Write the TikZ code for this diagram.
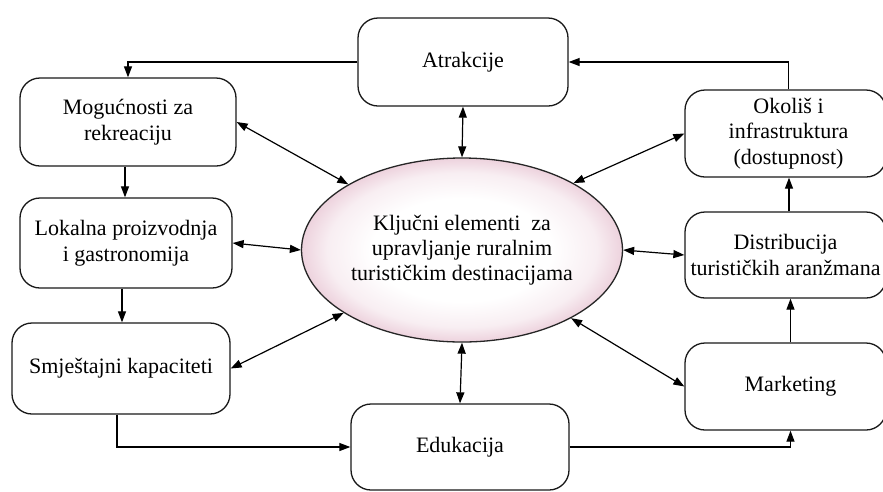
\documentclass[tikz,border=0pt]{standalone}
\usepackage{fontspec}
\setmainfont{Liberation Serif}
\usetikzlibrary{arrows.meta,shapes.geometric}
\definecolor{ellpinkA}{RGB}{248,238,242}
\definecolor{ellpinkB}{RGB}{237,210,221}
\pgfdeclareradialshading{ellshade}{\pgfpoint{0bp}{0bp}}{color(0bp)=(white); color(14bp)=(white); color(21bp)=(ellpinkA); color(25bp)=(ellpinkB); color(50bp)=(ellpinkB)}
\begin{document}
\begin{tikzpicture}[x=1pt,y=-1pt,
  box/.style={draw=black!90, line width=1.3pt, rounded corners=20pt, fill=white,
    align=center, inner sep=0pt, font=\fontsize{22}{25.5}\selectfont},
  core/.style={ellipse, draw=black!85, line width=1.3pt, inner sep=0pt,
    shading=ellshade, align=center,
    font=\fontsize{22}{25}\selectfont},
  conn/.style={line width=1.2pt, -{Triangle[length=11pt,width=8pt]}},
  dconn/.style={line width=1.2pt, {Triangle[length=11pt,width=8pt]}-{Triangle[length=11pt,width=8pt]}}]
\useasboundingbox (0,0) rectangle (883,491);
\fill[white] (0,0) rectangle (883,491);

% boxes
\node[box, minimum width=210pt, minimum height=88pt] (atr) at (463,62) {Atrakcije};
\node[box, minimum width=216pt, minimum height=88pt] (mog) at (128,122) {Mogućnosti za\\rekreaciju};
\node[box, minimum width=212pt, minimum height=90pt] (lok) at (126,243) {Lokalna proizvodnja\\i gastronomija};
\node[box, minimum width=218pt, minimum height=91pt] (smj) at (121,368.5) {Smještajni kapaciteti};
\node[box, minimum width=218pt, minimum height=86pt] (edu) at (460,447) {\raisebox{-4pt}{Edukacija}};
\node[box, minimum width=201pt, minimum height=87pt] (mkt) at (785.5,386.5) {\hspace*{10pt}Marketing};
\node[box, minimum width=201pt, minimum height=86pt] (dis) at (785.5,255) {Distribucija\\turističkih aranžmana};
\node[box, minimum width=201pt, minimum height=87pt] (oko) at (785.5,133.5) {\hspace*{6pt}Okoliš i\\\hspace*{6pt}infrastruktura\\\hspace*{6pt}(dostupnost)};

% central ellipse
\node[core, minimum width=321pt, minimum height=184pt] (core) at (462,250)
  {Ključni elementi\ \ za\\upravljanje ruralnim\\turističkim destinacijama};

% one-way connectors around the ring
\draw[conn] (atr.west) -| (mog.north);
\draw[conn] ([xshift=-3pt]mog.south) -- ([xshift=-3pt]mog.south |- lok.north);
\draw[conn] ([xshift=-4pt]lok.south) -- ([xshift=-4pt]lok.south |- smj.north);
\draw[conn] ([xshift=-4pt]smj.south) |- (edu.west);
\draw[conn] (edu.east) -| ([xshift=5pt]mkt.south);
\draw[conn] ([xshift=5pt]mkt.north) -- ([xshift=5pt]dis.south);
\draw[conn] ([xshift=3.5pt]dis.north) -- ([xshift=3.5pt]oko.south);
\draw[conn] ([xshift=3pt]oko.north) |- (atr.east);

% two-way connectors to the centre
\draw[dconn] (atr.south) -- (core.north);
\draw[dconn] (mog.east) -- (core.150);
\draw[dconn] (lok.east) -- (core.west);
\draw[dconn] (smj.east) -- (core.208);
\draw[dconn] (edu.north) -- (core.south);
\draw[dconn] (mkt.west) -- (core.328);
\draw[dconn] (dis.west) -- (core.east);
\draw[dconn] (oko.west) -- (core.31);
\end{tikzpicture}
\end{document}
